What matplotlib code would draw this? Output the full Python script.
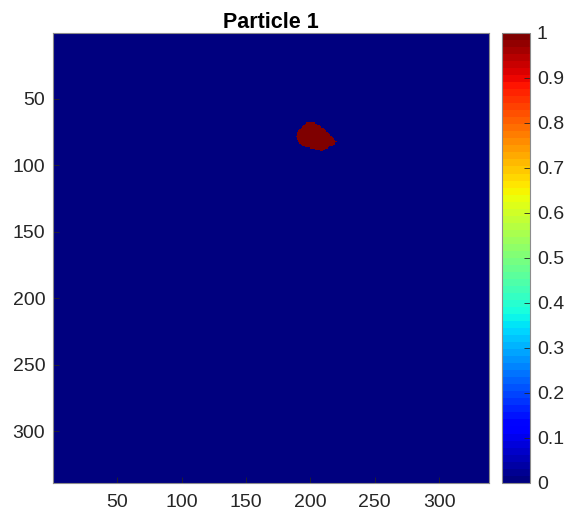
import matplotlib
matplotlib.use('Agg')
import matplotlib.pyplot as plt
import numpy as np
from matplotlib.path import Path

plt.rcParams['font.family'] = ['Liberation Sans', 'DejaVu Sans']

# image size (pixels of the mask)
n_rows = 338
n_cols = 338

# outline of the particle (column, row)
blob_x = [189.5, 194.6, 198.5, 202.4, 206.3, 210.1, 214.0, 217.9, 220.0,
          219.2, 215.3, 211.5, 208.9, 205.0, 199.8, 194.6, 190.7, 188.9]
blob_y = [74.5, 69.5, 67.0, 67.0, 69.5, 72.0, 75.7, 79.5, 82.0,
          84.5, 85.8, 88.3, 89.5, 88.3, 87.0, 85.8, 82.0, 78.3]

title = 'Particle 1'
xticks = [50, 100, 150, 200, 250, 300]
yticks = [50, 100, 150, 200, 250, 300]
cbar_ticks = [0, 0.1, 0.2, 0.3, 0.4, 0.5, 0.6, 0.7, 0.8, 0.9, 1]

# rasterise the outline into a binary mask
cols, rows = np.meshgrid(np.arange(1, n_cols + 1), np.arange(1, n_rows + 1))
outline = Path(np.column_stack([blob_x, blob_y]))
inside = outline.contains_points(np.column_stack([cols.ravel(), rows.ravel()]))
mask = inside.reshape(n_rows, n_cols).astype(float)

fig = plt.figure(figsize=(5.72, 5.22), dpi=100)
ax = fig.add_axes([0.0935, 0.0753, 0.761, 0.8615])
cax = fig.add_axes([0.8776, 0.0753, 0.049, 0.8615])

cmap = plt.get_cmap('jet', 64)
im = ax.imshow(mask, cmap=cmap, vmin=0, vmax=1, aspect='auto',
               extent=[0.5, n_cols + 0.5, n_rows + 0.5, 0.5],
               interpolation='nearest')

ax.set_xticks(xticks)
ax.set_yticks(yticks)
ax.tick_params(direction='in', length=4, width=0.6, colors='#262626',
               labelsize=14, top=False, right=False)
ax.tick_params(axis='x', pad=8)
ax.tick_params(axis='y', pad=6)
for s in ax.spines.values():
    s.set_color('#8c8c8c')
    s.set_linewidth(0.8)
ax.set_title(title, fontsize=15.5, fontweight='bold', color='black', pad=3.5)

cb = fig.colorbar(im, cax=cax, ticks=cbar_ticks)
cb.ax.set_yticklabels([f'{t:g}' for t in cbar_ticks])
cb.ax.tick_params(direction='in', length=4, width=0.6, colors='#262626',
                  labelsize=14, pad=5)
cb.outline.set_edgecolor('#8c8c8c')
cb.outline.set_linewidth(0.8)

fig.savefig('out.png', dpi=100)
